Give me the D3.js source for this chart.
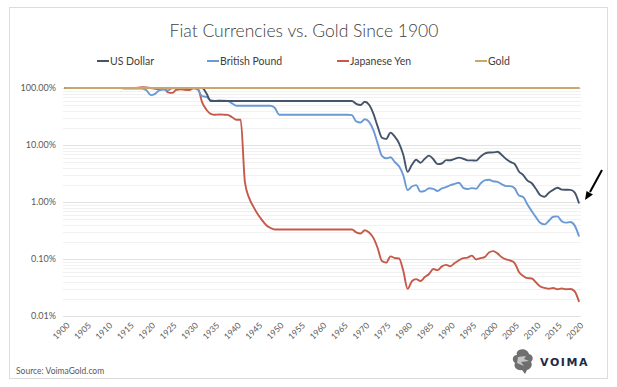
<!DOCTYPE html>
<html>
<head>
<meta charset="utf-8">
<script src="https://cdn.jsdelivr.net/npm/d3@7"></script>
<style>
  html, body { margin: 0; padding: 0; background: #ffffff; }
  svg { display: block; font-family: Lato, "Open Sans", sans-serif; }
</style>
</head>
<body>
<svg id="chart" width="617" height="387"></svg>
<script>
// ---------- DATA (value of each currency measured in gold, % of 1900 value) ----------
const years = d3.range(1900, 2021);
const xTickYears = d3.range(1900, 2021, 5);
const yTickValues = [100, 10, 1, 0.1, 0.01];
const yTickLabels = ["100.00%", "10.00%", "1.00%", "0.10%", "0.01%"];
const seriesNames = ["US Dollar", "British Pound", "Japanese Yen", "Gold"];

const usDollar = [
  100,100,100,100,100,100,100,100,100,100,
  100,100,100,100,100,100,100,100,100,100,
  100,100,100,100,100,100,100,100,100,100,
  100,100,100,81,59,59,59,59,59,59,
  59,59,59,59,59,59,59,59,59,59,
  59,59,59,59,59,59,59,59,59,59,
  59,59,59,59,59,59,59,59,52.6,50.3,
  57.4,50.7,35.5,21.2,13.4,12.8,16.5,14.0,10.7,6.7,
  3.38,4.49,5.50,4.88,5.72,6.52,5.62,4.62,4.73,5.43,
  5.40,5.71,6.01,5.74,5.38,5.38,5.33,6.24,7.03,7.40,
  7.41,7.63,6.67,5.69,5.05,4.65,3.43,2.97,2.37,2.13,
  1.69,1.31,1.24,1.46,1.63,1.78,1.65,1.64,1.63,1.48,
  0.97
];

const britishPound = [
  100,100,100,100,100,100,100,100,100,100,
  100,100,100,100,98,98,98,98,98,91,
  75,79,91,94,91,99,100,100,100,100,
  100,93,72,70,61,59.4,60.3,59.9,59.3,53.7,
  48.9,48.9,48.9,48.9,48.9,48.9,48.9,48.9,48.9,44.6,
  34.0,34.0,34.0,34.0,34.0,34.0,34.0,34.0,34.0,34.0,
  34.0,34.0,34.0,34.0,34.0,34.0,34.0,33.4,25.9,24.8,
  28.3,25.4,18.2,10.7,6.44,5.84,6.10,5.03,4.22,2.92,
  1.62,1.87,1.98,1.52,1.57,1.74,1.70,1.56,1.73,1.83,
  1.98,2.08,2.18,1.77,1.69,1.75,1.71,2.10,2.40,2.46,
  2.31,2.26,2.05,1.90,1.90,1.74,1.30,1.22,0.90,0.687,
  0.538,0.430,0.405,0.468,0.552,0.559,0.461,0.434,0.445,0.389,
  0.255
];

const japaneseYen = [
  100,100,100,100,100,100,100,100,100,100,
  100,100,100,100,100,100,100,101,103,102,
  100,97,96,99,84,82,93,95,93,92,
  99,98,56,41.6,35.2,33.9,34.3,34.1,33.7,30.7,
  27.7,27.7,2.2,1.17,0.82,0.61,0.48,0.39,0.35,0.33,
  0.329,0.329,0.329,0.329,0.329,0.329,0.329,0.329,0.329,0.329,
  0.329,0.329,0.329,0.329,0.329,0.329,0.329,0.329,0.293,0.280,
  0.320,0.292,0.235,0.156,0.092,0.0865,0.111,0.104,0.102,0.0614,
  0.0299,0.0408,0.0443,0.0411,0.0482,0.0547,0.0667,0.0639,0.0741,0.0789,
  0.0747,0.0848,0.0949,0.1037,0.1058,0.1148,0.0981,0.1034,0.1077,0.1302,
  0.1376,0.1255,0.107,0.0984,0.0938,0.0848,0.0593,0.0505,0.0462,0.0456,
  0.0386,0.0329,0.0312,0.0300,0.0309,0.0295,0.0304,0.0294,0.0297,0.0272,
  0.0182
];

const gold = years.map(() => 100); // gold measured in gold is constant at 100%

const colors = {
  "US Dollar": "#44546a",
  "British Pound": "#6a9ad6",
  "Japanese Yen": "#c55a4b",
  "Gold": "#c9a66b"
};

// ---------- LAYOUT ----------
const svg = d3.select("#chart");
const W = 617, H = 387;
const plot = { left: 63, right: 581, top: 88, bottom: 316 };

svg.append("rect").attr("width", W).attr("height", H).attr("fill", "#ffffff");
svg.append("rect")
  .attr("x", 9.5).attr("y", 7.5).attr("width", 598).attr("height", 371)
  .attr("fill", "#ffffff").attr("stroke", "#dcdcdc").attr("stroke-width", 1);

const x = d3.scalePoint().domain(years).range([plot.left, plot.right]).padding(0.5);
const y = d3.scaleLog().domain([0.01, 100]).range([plot.bottom, plot.top]);

// gridlines (minor + major)
const allTicks = y.ticks();
const isMajor = v => Math.abs(Math.log10(v) - Math.round(Math.log10(v))) < 1e-9;
svg.append("g").selectAll("line")
  .data(allTicks.filter(v => !isMajor(v)))
  .join("line")
  .attr("x1", plot.left).attr("x2", plot.right)
  .attr("y1", d => Math.round(y(d)) + 0.5).attr("y2", d => Math.round(y(d)) + 0.5)
  .attr("stroke", "#f1f1f1").attr("stroke-width", 1);
svg.append("g").selectAll("line")
  .data(yTickValues)
  .join("line")
  .attr("x1", plot.left).attr("x2", plot.right)
  .attr("y1", d => Math.round(y(d)) + 0.5).attr("y2", d => Math.round(y(d)) + 0.5)
  .attr("stroke", "#e2e2e2").attr("stroke-width", 1);

// y axis labels
svg.append("g").selectAll("text")
  .data(yTickValues)
  .join("text")
  .attr("x", 56).attr("y", d => y(d))
  .attr("dy", "0.35em")
  .attr("text-anchor", "end")
  .attr("font-size", 9)
  .attr("fill", "#595959")
  .text((d, i) => yTickLabels[i]);

// x axis labels (rotated)
svg.append("g").selectAll("text")
  .data(xTickYears)
  .join("text")
  .attr("transform", d => `translate(${x(d) + 3},${plot.bottom + 8}) rotate(-45)`)
  .attr("text-anchor", "end")
  .attr("dy", "0.35em")
  .attr("font-size", 8.5)
  .attr("fill", "#595959")
  .text(d => d);

// lines
const series = [
  { name: "US Dollar", values: usDollar },
  { name: "British Pound", values: britishPound },
  { name: "Japanese Yen", values: japaneseYen },
  { name: "Gold", values: gold }
];
const line = d3.line()
  .x((d, i) => x(years[i]))
  .y(d => y(d))
  .curve(d3.curveMonotoneX);

const drawOrder = ["Japanese Yen", "British Pound", "US Dollar", "Gold"];
drawOrder.forEach(name => {
  const s = series.find(s => s.name === name);
  svg.append("path")
    .datum(s.values)
    .attr("d", line)
    .attr("fill", "none")
    .attr("stroke", colors[name])
    .attr("stroke-width", name === "Gold" ? 2.2 : 1.9)
    .attr("stroke-linejoin", "round")
    .attr("stroke-linecap", "round");
});

// title
svg.append("text")
  .attr("x", 304).attr("y", 37)
  .attr("text-anchor", "middle")
  .attr("font-size", 17.5)
  .attr("font-weight", 300)
  .attr("fill", "#404040")
  .text("Fiat Currencies vs. Gold Since 1900");

// legend
const legendX = [97, 207, 337, 475];
const legend = svg.append("g");
seriesNames.forEach((name, i) => {
  legend.append("line")
    .attr("x1", legendX[i]).attr("x2", legendX[i] + 12)
    .attr("y1", 61).attr("y2", 61)
    .attr("stroke", colors[name]).attr("stroke-width", 2);
  legend.append("text")
    .attr("x", legendX[i] + 13).attr("y", 61)
    .attr("dy", "0.35em")
    .attr("font-size", 10.5)
    .attr("fill", "#404040")
    .text(name);
});

// source
svg.append("text")
  .attr("x", 16).attr("y", 374)
  .attr("font-size", 8.5)
  .attr("fill", "#595959")
  .text("Source: VoimaGold.com");

// Voima logo (approximate)
const logo = svg.append("g").attr("fill", "#6f6f6f");
logo.append("path")
  .attr("d", "M519,350 C523,348 528,350 529,354 C533,355 534,359 531,362 C533,365 531,369 527,370 L525,374 L522,370 C517,371 513,367 515,363 C511,360 513,355 517,355 C516,353 517,351 519,350 Z");
logo.append("path").attr("fill", "#ffffff").attr("opacity", 0.6)
  .attr("d", "M518,357 L526,356 L524,359 L529,361 L521,362 L524,366 L517,363 Z");
svg.append("text")
  .attr("x", 540).attr("y", 366)
  .attr("font-family", "'DejaVu Sans', sans-serif")
  .attr("font-size", 11)
  .attr("font-weight", 700)
  .attr("letter-spacing", 1.6)
  .attr("fill", "#1e2a45")
  .text("VOIMA");

// arrow pointing at latest US Dollar value
svg.append("line")
  .attr("x1", 602).attr("y1", 170)
  .attr("x2", 590).attr("y2", 192)
  .attr("stroke", "#000000").attr("stroke-width", 2);
svg.append("path")
  .attr("d", "M585,200 L593,194.5 L586.5,191 Z")
  .attr("fill", "#000000");
</script>
</body>
</html>
